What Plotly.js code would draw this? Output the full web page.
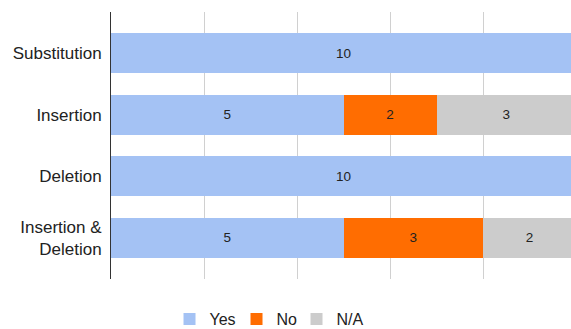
<!DOCTYPE html>
<html><head><meta charset="utf-8">
<script src="https://cdn.plot.ly/plotly-3.0.1.min.js"></script>
<style>html,body{margin:0;padding:0;background:#fff}</style>
</head><body><div id="chart" style="width:571px;height:329px"></div>
<script>
const categories = ["Substitution", "Insertion", "Deletion", "Insertion &<br>Deletion"];
const yesValues = [10, 5, 10, 5];
const noValues = [0, 2, 0, 3];
const naValues = [0, 3, 0, 2];
const seriesNames = ["Yes", "No", "N/A"];
const colors = ["#a4c2f4", "#ff6d01", "#cccccc"];
const legendWidths = [22, 15, 28];

function txt(v){ return v.map(x => x > 0 ? String(x) : ""); }
const allVals = [yesValues, noValues, naValues];
const traces = allVals.map((vals, i) => ({
  type: "bar", orientation: "h",
  name: seriesNames[i], x: vals, y: categories,
  marker: {color: colors[i]},
  legendwidth: legendWidths[i],
  text: txt(vals), textposition: "inside", insidetextanchor: "middle",
  textfont: {family: "Liberation Sans, Arial, sans-serif", size: 13.5, color: "#222222"},
  hoverinfo: "none", constraintext: "none"
}));

const layout = {
  width: 571, height: 329,
  margin: {l: 111, r: 0, t: 12, b: 50},
  barmode: "stack", bargap: 0.35,
  paper_bgcolor: "#ffffff", plot_bgcolor: "#ffffff",
  font: {family: "Liberation Sans, Arial, sans-serif", color: "#222222"},
  xaxis: {range: [0, 9.89], showticklabels: false, showgrid: true, gridcolor: "#d0d0d0",
          dtick: 2, zeroline: false, showline: false, ticks: ""},
  yaxis: {type: "category", range: [3.665, -0.665], showline: true, linecolor: "#333333", linewidth: 1,
          showgrid: false, ticks: "outside", ticklen: 5, tickcolor: "rgba(0,0,0,0)",
          tickfont: {size: 17, color: "#222222"}},
  showlegend: true,
  legend: {orientation: "h", xref: "container", yref: "container", x: 0.472, xanchor: "center",
           y: 0.03, yanchor: "middle", font: {size: 16, color: "#222222"}, traceorder: "normal"}
};
Plotly.newPlot("chart", traces, layout, {displayModeBar: false, staticPlot: true});
</script></body></html>
